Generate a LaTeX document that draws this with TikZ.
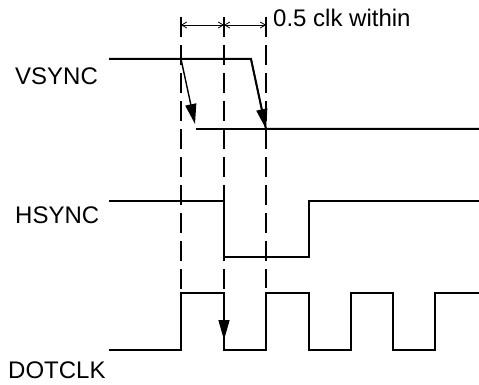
\documentclass[tikz,border=0pt]{standalone}
\usepackage{fontspec}
\setmainfont{Liberation Sans}
\usetikzlibrary{arrows.meta}
\begin{document}
\begin{tikzpicture}[x=1pt,y=-1pt,
  sig/.style={line width=2pt, line join=miter},
  guide/.style={line width=1.3pt, dash pattern=on 20pt off 8pt},
  ptr/.style={line width=1.4pt, arrows={-Triangle[length=20pt,width=11pt]}},
  dim/.style={line width=0.8pt, arrows={Straight Barb[length=5pt,width=6pt]-Straight Barb[length=5pt,width=6pt]}},
  lbl/.style={font=\fontsize{24}{28}\selectfont, inner sep=0pt, anchor=base west}]
\useasboundingbox (0,0) rectangle (479,385);
% labels
\node[lbl] (vs) at (15,85) {VSYNC};
\node[lbl] (hs) at (15,223) {HSYNC};
\node[lbl] (dc) at (8,378) {DOTCLK};
\node[lbl] (note) at (273,27) {0.5 clk within};
% coordinates
\coordinate (g1t) at (181,17); \coordinate (g1b) at (181,293);
\coordinate (g2t) at (224,17); \coordinate (g2b) at (224,290);
\coordinate (g3t) at (266,17); \coordinate (g3b) at (266,288);
\coordinate (d1) at (181,25); \coordinate (d2) at (224,25); \coordinate (d3) at (266,25);
\coordinate (v0) at (109,59); \coordinate (va) at (181,59); \coordinate (v1) at (251,59);
\coordinate (v2) at (266,129); \coordinate (v3) at (479,129); \coordinate (vl) at (196,129);
\coordinate (vat) at (195,124);
\coordinate (ct) at (224,293); \coordinate (ca) at (224,340);
% guides
\draw[guide] (g1t) -- (g1b);
\draw[guide] (g2t) -- (g2b);
\draw[guide] (g3t) -- (g3b);
% dimension arrows
\draw[dim] (d1) -- (d2);
\draw[dim] (d2) -- (d3);
% VSYNC
\draw[sig] (v0) -- (v1) -- (v2) -- (v3);
\draw[sig] (vl) -- (v2);
\draw[ptr] (va) -- (vat);
\draw[ptr] (v1) -- (v2);
% HSYNC
\draw[sig] (109,201) -- (224,201) -- (224,257) -- (309,257) -- (309,201) -- (479,201);
% DOTCLK
\draw[sig] (109,350) -- (181,350) -- (181,293) -- (224,293) -- (224,350) -- (266,350) -- (266,293) -- (309,293) -- (309,350) -- (351,350) -- (351,293) -- (393,293) -- (393,350) -- (435,350) -- (435,293) -- (479,293);
\draw[ptr] (ct) -- (ca);
\end{tikzpicture}
\end{document}
